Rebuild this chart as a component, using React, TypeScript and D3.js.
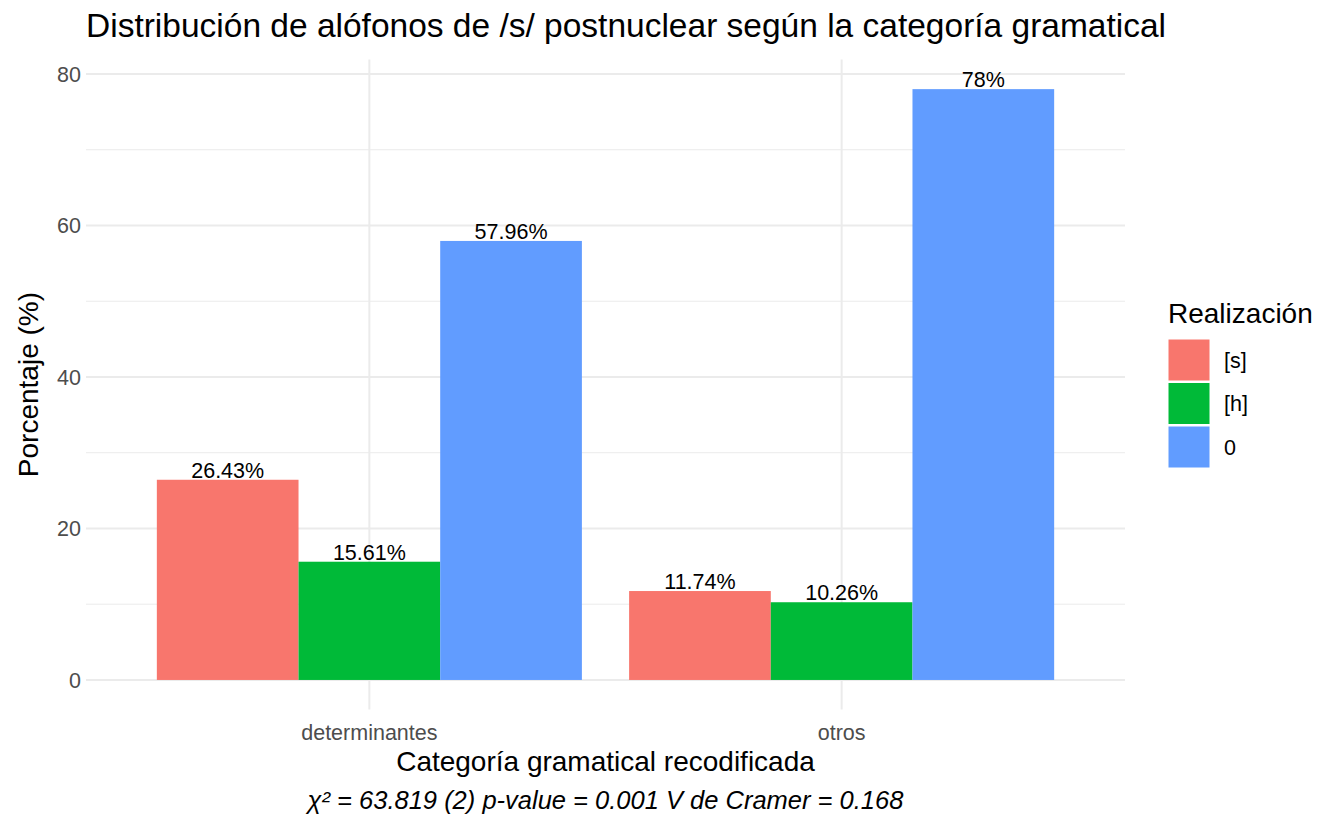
import React, { useEffect, useRef } from 'react';
import * as d3 from 'd3';

const categories = ['determinantes', 'otros'];
const realizaciones = ['[s]', '[h]', '0'];
const colors = ['#F8766D', '#00BA38', '#619CFF'];
// porcentajes por categoría: [s], [h], 0
const valuesDet = [26.43, 15.61, 57.96];
const valuesOtros = [11.74, 10.26, 78];
const labelsDet = ['26.43%', '15.61%', '57.96%'];
const labelsOtros = ['11.74%', '10.26%', '78%'];
const yTicks = [0, 20, 40, 60, 80];
const yMinor = [10, 30, 50, 70];

const App: React.FC = () => {
  const svgRef = useRef<SVGSVGElement>(null);

  useEffect(() => {
    if (!svgRef.current) return;
    const svg = d3.select(svgRef.current);
    svg.selectAll('*').remove();

    const font = 'Liberation Sans, Arial, sans-serif';
    const left = 86;
    const right = 1125;
    const data = [
      { cat: categories[0], values: valuesDet, labels: labelsDet },
      { cat: categories[1], values: valuesOtros, labels: labelsOtros },
    ];

    // discrete x like ggplot: 0.6 expansion on each side
    const xPos = d3.scaleLinear().domain([0.4, 2.6]).range([left, right]);
    const yMax = 78;
    const y = d3.scaleLinear().domain([-yMax * 0.05, yMax * 1.05]).range([709.5, 59.6]);
    const groupW = (xPos(1.9) - xPos(1));
    const inner = d3.scaleBand().domain(realizaciones).range([-groupW / 2, groupW / 2]).padding(0);
    const color = d3.scaleOrdinal<string, string>().domain(realizaciones).range(colors);

    const grid = svg.append('g');
    grid.selectAll('line.minor')
      .data(yMinor)
      .join('line')
      .attr('x1', left).attr('x2', right)
      .attr('y1', d => y(d)).attr('y2', d => y(d))
      .attr('stroke', '#ebebeb').attr('stroke-width', 1);
    grid.selectAll('line.major')
      .data(yTicks)
      .join('line')
      .attr('x1', left).attr('x2', right)
      .attr('y1', d => y(d)).attr('y2', d => y(d))
      .attr('stroke', '#ebebeb').attr('stroke-width', 2);
    grid.selectAll('line.vx')
      .data(categories)
      .join('line')
      .attr('x1', (_, i) => xPos(i + 1)).attr('x2', (_, i) => xPos(i + 1))
      .attr('y1', y(-yMax * 0.05)).attr('y2', y(yMax * 1.05))
      .attr('stroke', '#ebebeb').attr('stroke-width', 2);

    // bars
    data.forEach((g, gi) => {
      const cx = xPos(gi + 1);
      const grp = svg.append('g');
      grp.selectAll('rect')
        .data(g.values)
        .join('rect')
        .attr('x', (_, i) => cx + (inner(realizaciones[i]) as number))
        .attr('width', inner.bandwidth())
        .attr('y', d => y(d))
        .attr('height', d => y(0) - y(d))
        .attr('fill', (_, i) => color(realizaciones[i]));
      grp.selectAll('text')
        .data(g.values)
        .join('text')
        .attr('x', (_, i) => cx + (inner(realizaciones[i]) as number) + inner.bandwidth() / 2)
        .attr('y', d => y(d) - 2)
        .attr('text-anchor', 'middle')
        .style('font-family', font)
        .style('font-size', '21.5px')
        .style('fill', '#000')
        .text((_, i) => g.labels[i]);
    });

    // y tick labels
    svg.append('g').selectAll('text')
      .data(yTicks)
      .join('text')
      .attr('x', 81)
      .attr('y', d => y(d))
      .attr('dy', '0.36em')
      .attr('text-anchor', 'end')
      .style('font-family', font)
      .style('font-size', '21.5px')
      .style('fill', '#4d4d4d')
      .text(d => d);

    // x tick labels
    svg.append('g').selectAll('text')
      .data(categories)
      .join('text')
      .attr('x', (_, i) => xPos(i + 1))
      .attr('y', 740)
      .attr('text-anchor', 'middle')
      .style('font-family', font)
      .style('font-size', '21.5px')
      .style('fill', '#4d4d4d')
      .text(d => d);

    // titles
    svg.append('text')
      .attr('x', 86).attr('y', 37)
      .style('font-family', font).style('font-size', '33.5px').style('fill', '#000')
      .text('Distribución de alófonos de /s/ postnuclear según la categoría gramatical');

    svg.append('text')
      .attr('x', (left + right) / 2).attr('y', 771)
      .attr('text-anchor', 'middle')
      .style('font-family', font).style('font-size', '28px').style('fill', '#000')
      .text('Categoría gramatical recodificada');

    svg.append('text')
      .attr('transform', `translate(38,${(y(-yMax * 0.05) + y(yMax * 1.05)) / 2}) rotate(-90)`)
      .attr('text-anchor', 'middle')
      .style('font-family', font).style('font-size', '28px').style('fill', '#000')
      .text('Porcentaje (%)');

    svg.append('text')
      .attr('x', (left + right) / 2).attr('y', 809)
      .attr('text-anchor', 'middle')
      .style('font-family', font).style('font-size', '25.5px').style('font-style', 'italic').style('fill', '#000')
      .text('χ² = 63.819 (2) p-value = 0.001 V de Cramer = 0.168');

    // legend
    const leg = svg.append('g').attr('transform', 'translate(1168,0)');
    leg.append('text')
      .attr('x', 0).attr('y', 323)
      .style('font-family', font).style('font-size', '28px').style('fill', '#000')
      .text('Realización');
    const keys = leg.selectAll('g.key')
      .data(realizaciones)
      .join('g')
      .attr('transform', (_, i) => `translate(0,${339 + i * 43.5})`);
    keys.append('rect')
      .attr('width', 42).attr('height', 42)
      .attr('fill', d => color(d))
      .attr('stroke', '#fff').attr('stroke-width', 1);
    keys.append('text')
      .attr('x', 56).attr('y', 21).attr('dy', '0.36em')
      .style('font-family', font).style('font-size', '21.5px').style('fill', '#000')
      .text(d => d);
  }, []);

  return (
    <svg ref={svgRef} width={1319} height={816}
      style={{ position: 'absolute', left: 0, top: 0, background: '#fff' }} />
  );
};

export default App;
